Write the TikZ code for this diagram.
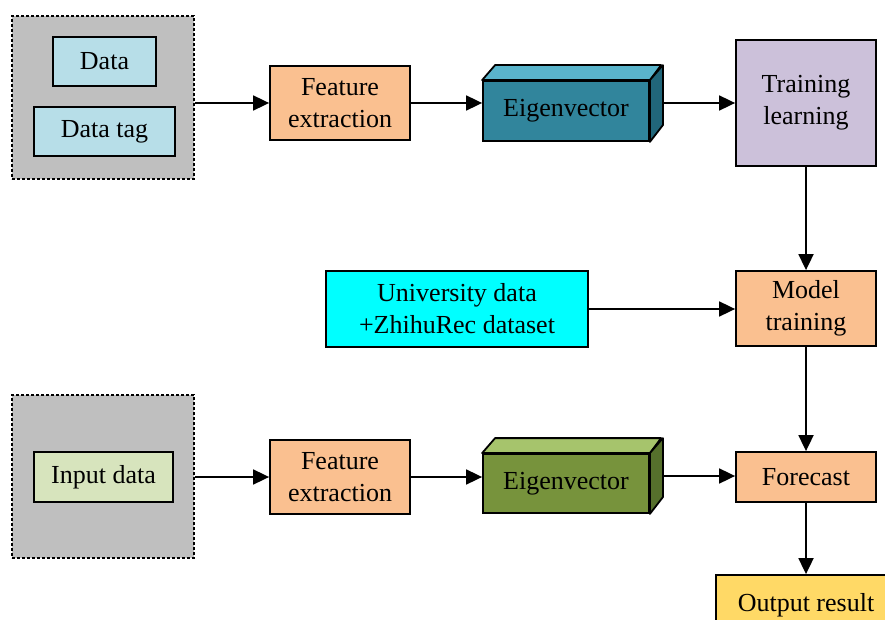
\documentclass[tikz,border=0pt]{standalone}
\usepackage{fontspec}
\setmainfont{Liberation Serif}
\usetikzlibrary{arrows.meta,calc}
\definecolor{lblue}{HTML}{B7DEE8}
\definecolor{grp}{HTML}{BFBFBF}
\definecolor{orng}{HTML}{FAC090}
\definecolor{tealF}{HTML}{31859C}
\definecolor{tealT}{HTML}{5AB4CB}
\definecolor{tealS}{HTML}{21667A}
\definecolor{grnF}{HTML}{77933C}
\definecolor{grnT}{HTML}{A6C46C}
\definecolor{grnS}{HTML}{56702C}
\definecolor{purp}{HTML}{CCC1DA}
\definecolor{cyn}{HTML}{00FFFF}
\definecolor{inpc}{HTML}{D7E4BD}
\definecolor{outc}{HTML}{FFD966}
\begin{document}
\begin{tikzpicture}[x=1pt,y=-1pt,
  box/.style={draw=black, line width=1.8pt, inner sep=0pt, align=center,
    font=\fontsize{26}{32}\selectfont},
  group/.style={draw=black, fill=grp, line width=1.4pt, dash pattern=on 3pt off 2pt, inner sep=0pt},
  face/.style={draw=black, line width=1.8pt, line join=round},
  arr/.style={line width=1.8pt, -{Triangle[length=16pt,width=15pt]}}]
\useasboundingbox (0,0) rectangle (885,620);
\begin{scope}
\clip (0,0) rectangle (885,620);
% top row
\node[group, minimum width=182pt, minimum height=163pt] (grp1) at (103,97.5) {};
\node[box, fill=lblue, minimum width=103pt, minimum height=49pt] (data) at (104.5,61.5) {Data};
\node[box, fill=lblue, minimum width=141pt, minimum height=49pt] (datatag) at (104.5,131.5) {Data tag};
\node[box, fill=orng, minimum width=140pt, minimum height=74pt] (fe1) at (340,103) {Feature\\extraction};
\node[box, fill=tealF, minimum width=166pt, minimum height=60pt] (ev1) at (566,111) {Eigenvector};
\filldraw[face, fill=tealT] (ev1.north west) -- ++(13,-15) -- ++(166,0) -- (ev1.north east) -- cycle;
\filldraw[face, fill=tealS] (ev1.north east) -- ++(13,-15) -- ++(0,60) -- (ev1.south east) -- cycle;
\coordinate (ev1out) at ($(ev1.east)+(13,-8)$);
\node[box, fill=purp, minimum width=140pt, minimum height=126pt] (tl) at (806,103) {Training\\learning};
% middle row
\node[box, fill=cyn, minimum width=262pt, minimum height=76pt] (uni) at (457,309) {University data\\+ZhihuRec dataset};
\node[box, fill=orng, minimum width=140pt, minimum height=75pt] (mt) at (806,308.5) {Model\\training};
% bottom row
\node[group, minimum width=182pt, minimum height=163pt] (grp2) at (103,476.5) {};
\node[box, fill=inpc, minimum width=139pt, minimum height=50pt] (inp) at (103.5,477) {Input data};
\node[box, fill=orng, minimum width=140pt, minimum height=74pt] (fe2) at (340,477) {Feature\\extraction};
\node[box, fill=grnF, minimum width=166pt, minimum height=59pt] (ev2) at (566,483.5) {Eigenvector};
\filldraw[face, fill=grnT] (ev2.north west) -- ++(13,-15) -- ++(166,0) -- (ev2.north east) -- cycle;
\filldraw[face, fill=grnS] (ev2.north east) -- ++(13,-15) -- ++(0,59) -- (ev2.south east) -- cycle;
\coordinate (ev2out) at ($(ev2.east)+(13,-7.5)$);
\node[box, fill=orng, minimum width=140pt, minimum height=50pt] (fc) at (806,477) {Forecast};
\node[box, fill=outc, minimum width=180pt, minimum height=60pt] (out) at (806,605) {Output result};
% connectors
\draw[arr] (grp1.east |- fe1.west) -- (fe1.west);
\draw[arr] (fe1.east) -- (fe1.east -| ev1.west);
\draw[arr] (ev1out) -- (ev1out -| tl.west);
\draw[arr] (tl.south) -- (mt.north);
\draw[arr] (uni.east) -- (uni.east -| mt.west);
\draw[arr] (mt.south) -- (fc.north);
\draw[arr] (grp2.east |- fe2.west) -- (fe2.west);
\draw[arr] (fe2.east) -- (fe2.east -| ev2.west);
\draw[arr] (ev2out) -- (ev2out -| fc.west);
\draw[arr] (fc.south) -- (out.north);
\end{scope}
\end{tikzpicture}
\end{document}
